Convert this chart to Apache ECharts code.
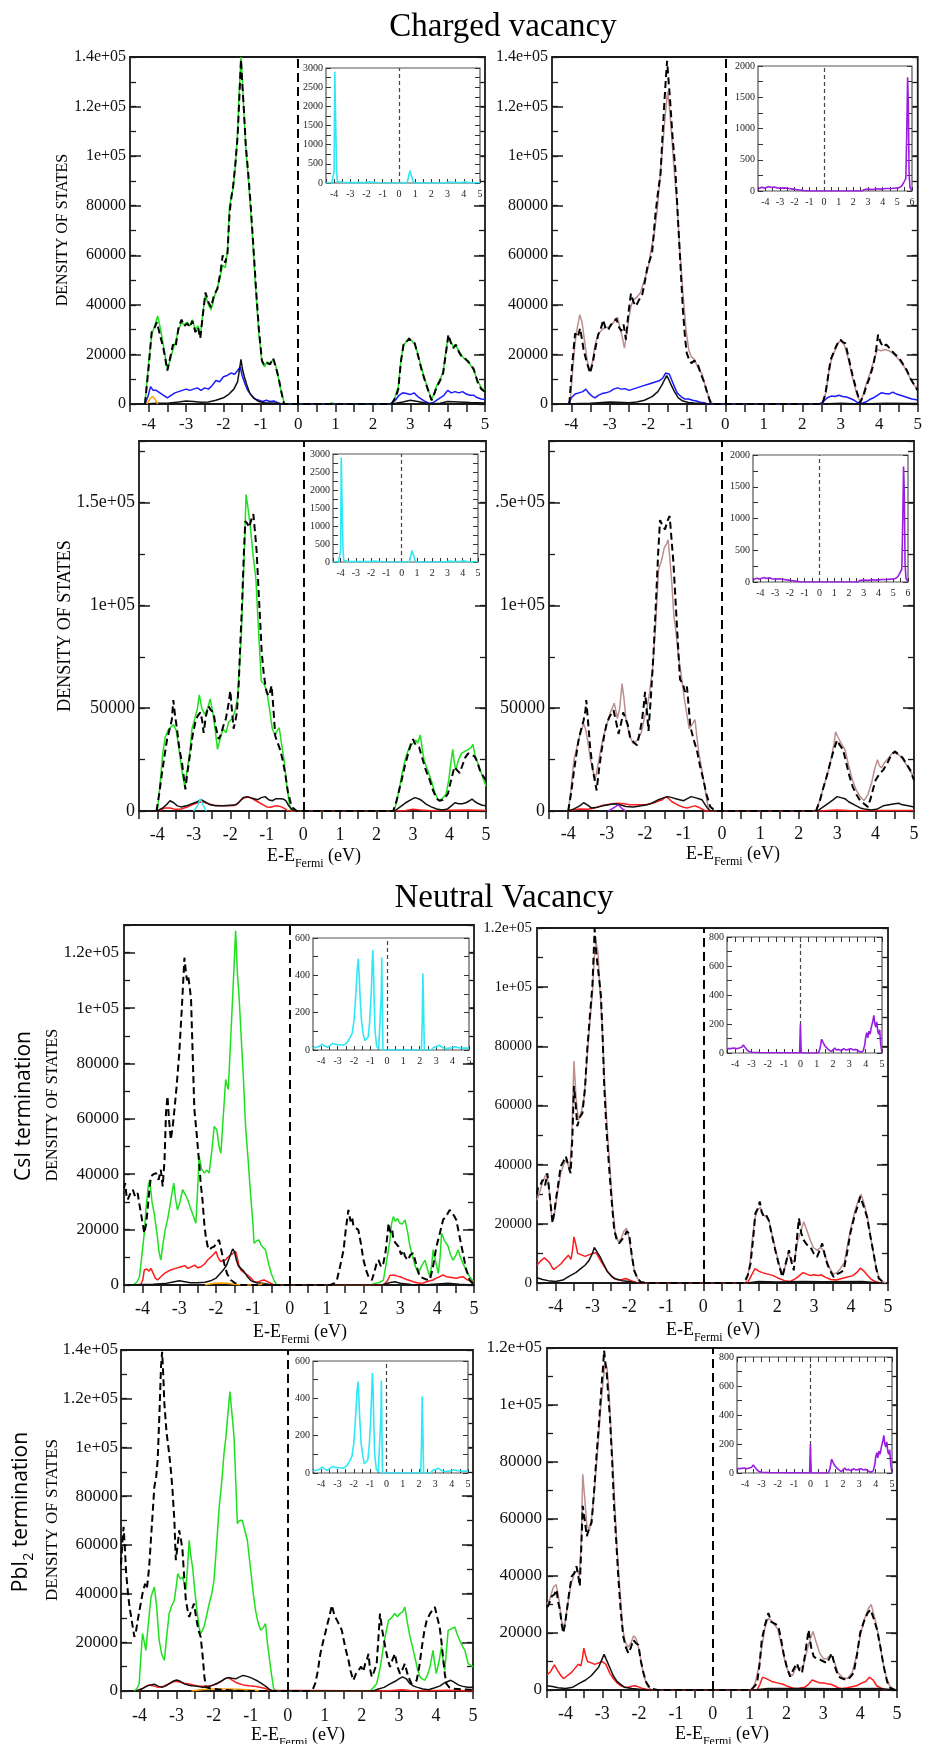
<!DOCTYPE html>
<html><head><meta charset="utf-8">
<script src="https://cdn.jsdelivr.net/npm/echarts@6/dist/echarts.min.js"></script>
<style>html,body{margin:0;padding:0;background:#fff}#c{width:925px;height:1744px}</style>
</head><body><div id="c"></div>
<script>
// ===== DATA (energy in eV, DOS values) =====
// Charged vacancy, left column (top panel)
const p1_total=[[-4.1,0],[-4.0,15000],[-3.92,29000],[-3.85,30500],[-3.78,33000],[-3.7,28000],[-3.6,22000],[-3.5,13500],[-3.42,19000],[-3.35,24000],[-3.28,23000],[-3.2,31000],[-3.12,34000],[-3.05,31500],[-2.97,32500],[-2.9,31000],[-2.83,33500],[-2.75,29000],[-2.68,31000],[-2.62,26500],[-2.55,36000],[-2.48,45000],[-2.4,41000],[-2.33,39000],[-2.25,44000],[-2.16,46500],[-2.08,53000],[-2.02,60000],[-1.95,57000],[-1.89,61000],[-1.84,76000],[-1.8,82000],[-1.74,88000],[-1.68,97000],[-1.62,108000],[-1.57,125000],[-1.53,139000],[-1.49,128000],[-1.45,118000],[-1.4,104000],[-1.33,92000],[-1.27,80000],[-1.2,64000],[-1.13,47000],[-1.05,30000],[-0.97,17500],[-0.9,15500],[-0.83,16500],[-0.75,16000],[-0.67,18500],[-0.6,15000],[-0.53,11000],[-0.45,5000],[-0.38,0],[2.5,0],[2.6,2500],[2.68,6000],[2.75,17000],[2.82,24000],[2.9,25000],[2.97,26500],[3.04,25000],[3.12,24500],[3.2,20000],[3.3,14000],[3.4,9000],[3.5,4500],[3.57,1500],[3.64,4000],[3.71,7000],[3.8,9500],[3.88,12500],[3.95,20000],[4.02,28000],[4.08,25000],[4.15,22500],[4.22,24000],[4.3,21000],[4.38,19000],[4.46,18500],[4.55,17000],[4.62,16000],[4.7,14000],[4.8,9000],[4.9,6000],[5,5000]];
const p1_green=[[-4.1,0],[-4.0,17000],[-3.92,28000],[-3.85,31000],[-3.76,35500],[-3.68,30000],[-3.6,23000],[-3.5,14000],[-3.42,18000],[-3.35,22000],[-3.28,25000],[-3.2,30000],[-3.12,33000],[-3.05,32000],[-2.97,33000],[-2.9,31500],[-2.83,34000],[-2.75,30000],[-2.68,31500],[-2.62,27000],[-2.55,37000],[-2.48,44000],[-2.4,40000],[-2.33,38000],[-2.25,43000],[-2.16,47000],[-2.08,52000],[-2.02,56000],[-1.95,55000],[-1.89,62000],[-1.84,79000],[-1.8,83000],[-1.74,87000],[-1.68,96000],[-1.62,110000],[-1.57,128000],[-1.53,140000],[-1.49,130000],[-1.45,117000],[-1.4,103000],[-1.33,90000],[-1.27,78000],[-1.2,62000],[-1.13,45000],[-1.05,28000],[-0.97,17000],[-0.9,15000],[-0.83,17000],[-0.75,16500],[-0.67,18000],[-0.6,15500],[-0.53,10500],[-0.45,4500],[-0.36,0],[0.8,0],[0.9,400],[1.0,0],[2.5,0],[2.6,3000],[2.68,7000],[2.75,18000],[2.82,23500],[2.9,25500],[2.97,26000],[3.04,25500],[3.12,24000],[3.2,20500],[3.3,14500],[3.4,9500],[3.5,5000],[3.57,1500],[3.64,4500],[3.71,7500],[3.8,10000],[3.88,13000],[3.95,21000],[4.02,27000],[4.08,25500],[4.15,23000],[4.22,23500],[4.3,21500],[4.38,19500],[4.46,18000],[4.55,17500],[4.62,15500],[4.7,13500],[4.8,9500],[4.9,6500],[5,5500]];
const p1_blue=[[-4.1,0],[-4.02,3000],[-3.95,7000],[-3.88,5500],[-3.8,5500],[-3.7,4500],[-3.6,3500],[-3.5,2500],[-3.4,3500],[-3.3,4500],[-3.2,5000],[-3.1,5500],[-3.0,6000],[-2.9,5500],[-2.8,6000],[-2.7,6500],[-2.6,5500],[-2.5,6500],[-2.4,6000],[-2.3,7500],[-2.2,9500],[-2.1,9000],[-2.0,11000],[-1.9,11500],[-1.8,12500],[-1.7,12000],[-1.62,13500],[-1.55,15000],[-1.5,11500],[-1.42,8000],[-1.35,5500],[-1.25,3500],[-1.15,2000],[-1.05,1500],[-0.95,1000],[-0.85,1500],[-0.75,1000],[-0.65,1200],[-0.55,500],[-0.45,0],[2.45,0],[2.6,1500],[2.7,3500],[2.8,4500],[2.9,4200],[3.0,3800],[3.1,4500],[3.2,3000],[3.3,2000],[3.4,1000],[3.5,300],[3.6,500],[3.7,1500],[3.8,2500],[3.9,3500],[4.0,5500],[4.1,4500],[4.2,5000],[4.3,4500],[4.4,5000],[4.5,4000],[4.6,3500],[4.7,3500],[4.8,2500],[4.9,2000],[5,1800]];
const p1_black=[[-4.1,0],[-3.8,300],[-3.5,300],[-3.2,800],[-3.0,1200],[-2.8,1000],[-2.6,700],[-2.4,800],[-2.2,1500],[-2.0,2500],[-1.85,4000],[-1.72,6000],[-1.62,9000],[-1.56,15000],[-1.53,18000],[-1.49,14000],[-1.44,11000],[-1.38,8000],[-1.3,4500],[-1.2,2500],[-1.05,1000],[-0.9,500],[-0.7,400],[-0.5,200],[-0.4,0],[2.5,0],[2.8,800],[3.0,1500],[3.2,1000],[3.5,100],[3.8,300],[4.0,1000],[4.3,800],[4.6,600],[5,400]];
const p1_orange=[[-4.05,0],[-3.97,2000],[-3.9,3000],[-3.83,2000],[-3.76,0]];
// Charged vacancy inset (cyan)
const cv_inset_cyan=[[-4.5,0],[-4.15,0],[-4.05,30],[-4.0,300],[-3.96,2900],[-3.9,2900],[-3.85,400],[-3.8,40],[-3.5,20],[-3.0,10],[-2.0,10],[-1.8,30],[-1.7,70],[-1.6,20],[-1.2,5],[0.5,0],[0.62,40],[0.68,320],[0.8,330],[0.86,60],[0.95,0],[2.5,0],[2.9,10],[3.1,25],[3.4,10],[3.9,15],[4.05,35],[4.3,10],[4.7,5],[5,5]];
// Charged vacancy, right column (top panel)
const p2_total=[[-4.05,0],[-3.98,15000],[-3.9,28500],[-3.83,27000],[-3.77,30500],[-3.72,26000],[-3.68,22000],[-3.6,17000],[-3.51,12500],[-3.45,16000],[-3.38,22000],[-3.3,28000],[-3.22,31000],[-3.17,34000],[-3.1,30000],[-3.04,30000],[-2.97,32000],[-2.9,33000],[-2.83,34500],[-2.76,31000],[-2.7,29500],[-2.64,32000],[-2.58,26000],[-2.52,36000],[-2.45,44500],[-2.38,41000],[-2.32,39500],[-2.24,42000],[-2.15,44500],[-2.08,50000],[-2.02,55500],[-1.96,58000],[-1.9,61000],[-1.85,70000],[-1.81,77000],[-1.75,85000],[-1.68,93000],[-1.63,108000],[-1.58,122000],[-1.54,132000],[-1.51,138500],[-1.47,130000],[-1.43,122000],[-1.37,108000],[-1.3,95500],[-1.24,78000],[-1.17,58000],[-1.1,38000],[-1.04,26000],[-1.0,20500],[-0.94,18000],[-0.88,16500],[-0.8,17500],[-0.71,15800],[-0.63,12000],[-0.54,8500],[-0.46,4000],[-0.37,0],[2.52,0],[2.6,4000],[2.67,11000],[2.74,18000],[2.82,21000],[2.9,24000],[2.99,26000],[3.05,25000],[3.12,24500],[3.2,19000],[3.3,12000],[3.4,6000],[3.5,500],[3.58,3000],[3.66,7000],[3.76,11000],[3.85,16000],[3.92,22000],[3.97,28000],[4.03,25000],[4.1,23000],[4.18,24000],[4.27,22500],[4.35,21000],[4.45,19500],[4.52,18500],[4.62,16000],[4.72,13500],[4.82,10000],[4.9,8000],[5,5500]];
const p2_rosy=[[-4.03,0],[-3.97,12000],[-3.9,25000],[-3.84,31000],[-3.78,36000],[-3.72,33000],[-3.65,25000],[-3.58,17000],[-3.52,13000],[-3.45,17000],[-3.38,24000],[-3.3,28000],[-3.2,30000],[-3.1,31000],[-3.0,31000],[-2.9,33000],[-2.8,35000],[-2.72,30000],[-2.66,26000],[-2.62,22500],[-2.56,28000],[-2.5,35000],[-2.44,40000],[-2.38,42000],[-2.3,43000],[-2.2,45000],[-2.1,50000],[-2.0,55000],[-1.93,62000],[-1.85,68000],[-1.77,78000],[-1.7,90000],[-1.62,105000],[-1.55,118000],[-1.5,126000],[-1.45,120000],[-1.4,110000],[-1.33,95000],[-1.25,80000],[-1.18,62000],[-1.1,45000],[-1.02,30000],[-0.95,22000],[-0.88,19000],[-0.8,18000],[-0.72,15000],[-0.6,12000],[-0.5,6000],[-0.4,2000],[-0.33,0],[2.53,0],[2.62,5000],[2.7,14000],[2.78,19000],[2.86,22000],[2.95,25000],[3.02,25500],[3.1,23500],[3.2,18000],[3.3,11000],[3.4,5000],[3.5,1000],[3.58,3500],[3.66,8000],[3.75,12000],[3.85,17000],[3.95,22000],[4.05,21500],[4.15,22000],[4.25,21500],[4.35,20500],[4.45,19000],[4.55,17000],[4.65,15000],[4.75,12000],[4.85,9000],[5,5500]];
const p2_blue=[[-4.08,0],[-4.0,2500],[-3.9,4000],[-3.8,4500],[-3.7,5000],[-3.62,6000],[-3.55,4500],[-3.45,3000],[-3.38,2500],[-3.3,3500],[-3.2,4200],[-3.1,4500],[-3.0,5000],[-2.9,6000],[-2.8,6500],[-2.7,6000],[-2.6,6200],[-2.5,5500],[-2.4,6000],[-2.3,6500],[-2.2,7000],[-2.1,7500],[-2.0,8000],[-1.9,8500],[-1.8,9000],[-1.7,9500],[-1.62,10500],[-1.55,12500],[-1.5,13000],[-1.45,12000],[-1.4,10000],[-1.32,7000],[-1.25,4500],[-1.15,3000],[-1.05,2000],[-0.95,2000],[-0.85,1500],[-0.75,1200],[-0.65,700],[-0.55,500],[-0.45,0],[2.45,0],[2.55,1000],[2.65,2500],[2.75,3200],[2.85,3000],[2.95,3500],[3.05,3000],[3.15,2800],[3.25,2200],[3.35,1500],[3.45,500],[3.55,300],[3.65,800],[3.75,1800],[3.85,2500],[3.95,3500],[4.05,4500],[4.15,4200],[4.25,4000],[4.35,4800],[4.45,4000],[4.55,3500],[4.65,3000],[4.75,2500],[4.85,2000],[5,1600]];
const p2_black=[[-4.05,0],[-3.8,200],[-3.5,300],[-3.2,600],[-3.0,800],[-2.8,700],[-2.5,500],[-2.3,800],[-2.1,1500],[-1.9,3000],[-1.75,5000],[-1.65,7500],[-1.57,10000],[-1.52,11500],[-1.47,10000],[-1.4,7500],[-1.32,5000],[-1.22,2500],[-1.1,1200],[-0.95,600],[-0.8,400],[-0.6,200],[-0.4,0],[2.5,0],[3.0,300],[3.5,0],[4.2,300],[5,200]];
// Charged vacancy inset (purple)
const cv_inset_purple=[[-4.5,30],[-4.35,50],[-4.2,60],[-4.05,45],[-3.9,60],[-3.75,70],[-3.6,55],[-3.4,65],[-3.2,50],[-3.0,45],[-2.7,50],[-2.4,40],[-2.1,30],[-1.8,20],[-1.5,10],[-1.3,0],[2.6,0],[2.75,25],[3.0,30],[3.3,25],[3.6,35],[3.9,30],[4.2,40],[4.5,40],[4.8,45],[5.1,50],[5.3,80],[5.4,120],[5.5,130],[5.58,200],[5.64,900],[5.7,1820],[5.75,1400],[5.8,300],[5.86,60],[6,0]];
// Charged vacancy, left column (lower panel)
const p3_total=[[-4.02,0],[-3.95,8000],[-3.87,18500],[-3.8,27000],[-3.73,35000],[-3.66,40000],[-3.6,44500],[-3.56,54000],[-3.51,46000],[-3.46,40000],[-3.4,31000],[-3.32,23000],[-3.27,16000],[-3.23,10500],[-3.18,18000],[-3.1,28000],[-3.03,37000],[-2.96,43000],[-2.9,46000],[-2.82,48000],[-2.77,44000],[-2.73,38000],[-2.67,46000],[-2.6,51000],[-2.53,49000],[-2.46,48000],[-2.4,41000],[-2.32,35000],[-2.26,37000],[-2.19,41500],[-2.12,45000],[-2.05,52000],[-2.0,58500],[-1.96,50000],[-1.91,40000],[-1.86,44000],[-1.82,48000],[-1.77,62000],[-1.73,80000],[-1.68,100000],[-1.63,125000],[-1.59,141000],[-1.54,140000],[-1.48,138000],[-1.42,142000],[-1.37,144500],[-1.32,135000],[-1.28,126500],[-1.22,105000],[-1.17,88000],[-1.14,77000],[-1.08,66000],[-1.03,60000],[-1.0,57500],[-0.94,56000],[-0.87,61000],[-0.82,50000],[-0.77,36500],[-0.7,33000],[-0.64,30000],[-0.57,25000],[-0.5,18500],[-0.42,9000],[-0.32,2000],[-0.18,0],[2.46,0],[2.55,5000],[2.62,10000],[2.69,15000],[2.78,22000],[2.87,28000],[2.95,33000],[3.0,35000],[3.08,32000],[3.17,31000],[3.25,26000],[3.35,20000],[3.46,15000],[3.55,10000],[3.65,6000],[3.73,5000],[3.82,5500],[3.9,7000],[3.96,8500],[4.03,14000],[4.1,19000],[4.14,21500],[4.2,20000],[4.28,18500],[4.35,22000],[4.43,26000],[4.51,28000],[4.6,27500],[4.69,26500],[4.76,24000],[4.83,20000],[4.92,17000],[5,15000]];
const p3_green=[[-4.0,0],[-3.93,12000],[-3.85,28000],[-3.78,36000],[-3.7,39500],[-3.62,41000],[-3.55,42000],[-3.48,39000],[-3.42,32000],[-3.33,20000],[-3.25,12000],[-3.18,20000],[-3.1,30000],[-3.05,40000],[-2.97,45000],[-2.9,50000],[-2.85,56500],[-2.78,50000],[-2.7,47000],[-2.62,50000],[-2.55,54500],[-2.48,48000],[-2.42,40000],[-2.35,30000],[-2.28,35000],[-2.2,40000],[-2.12,38000],[-2.05,43000],[-1.95,45000],[-1.88,48000],[-1.8,55000],[-1.75,70000],[-1.7,85000],[-1.65,110000],[-1.6,135000],[-1.57,154000],[-1.52,148000],[-1.45,138000],[-1.38,125000],[-1.3,113000],[-1.22,85000],[-1.15,63000],[-1.08,62000],[-1.0,58000],[-0.93,50000],[-0.85,40000],[-0.78,37000],[-0.72,39000],[-0.66,40500],[-0.6,33000],[-0.53,25000],[-0.45,12000],[-0.38,3000],[-0.33,0],[2.48,0],[2.55,4000],[2.62,10000],[2.7,18000],[2.8,26000],[2.9,31000],[3.0,33000],[3.08,34500],[3.13,33000],[3.2,37000],[3.25,31000],[3.3,25000],[3.4,20000],[3.5,15000],[3.6,9000],[3.7,5000],[3.8,6000],[3.9,8000],[3.98,15000],[4.05,25000],[4.09,30000],[4.13,24000],[4.17,20000],[4.25,25000],[4.33,28000],[4.42,29000],[4.52,30000],[4.6,31000],[4.64,32500],[4.7,27000],[4.8,22000],[4.9,17000],[5,12000]];
const p3_black=[[-4.0,0],[-3.85,1500],[-3.75,3000],[-3.65,5000],[-3.55,4000],[-3.45,2500],[-3.35,2000],[-3.2,2500],[-3.05,3500],[-2.9,4500],[-2.8,5500],[-2.7,4500],[-2.55,3000],[-2.4,2500],[-2.2,2500],[-2.0,2800],[-1.85,3000],[-1.75,4500],[-1.65,6500],[-1.55,7000],[-1.45,6500],[-1.35,6000],[-1.25,5500],[-1.15,6500],[-1.05,7000],[-0.95,5500],[-0.85,5000],[-0.75,6000],[-0.65,6000],[-0.55,5800],[-0.48,5000],[-0.4,2500],[-0.3,500],[-0.2,0],[2.5,0],[2.65,2000],[2.8,4000],[2.95,5500],[3.05,6500],[3.15,6000],[3.25,5000],[3.35,3500],[3.5,2000],[3.65,1000],[3.8,500],[3.95,1000],[4.05,2500],[4.15,4000],[4.25,3500],[4.35,3500],[4.45,4000],[4.55,5000],[4.62,5800],[4.7,4500],[4.8,3500],[4.9,2800],[5,2500]];
const p3_red=[[-4.02,0],[-3.9,500],[-3.8,1500],[-3.65,1500],[-3.5,800],[-3.35,1000],[-3.2,1800],[-3.05,3000],[-2.9,4000],[-2.75,4500],[-2.6,3500],[-2.45,2800],[-2.25,2500],[-2.05,2500],[-1.9,2700],[-1.8,3500],[-1.7,5500],[-1.6,6500],[-1.5,6800],[-1.4,6000],[-1.3,5000],[-1.2,4000],[-1.1,3000],[-1.0,2000],[-0.9,1800],[-0.8,2300],[-0.7,2500],[-0.6,2000],[-0.5,1000],[-0.42,0],[2.5,0],[2.8,300],[3.0,800],[3.2,500],[3.5,100],[4.0,400],[4.5,500],[5,300]];
const p3_cyan=[[-3.0,0],[-2.9,2500],[-2.82,6000],[-2.75,3000],[-2.66,0]];
// Charged vacancy, right column (lower panel)
const p4_total=[[-4.0,0],[-3.93,8000],[-3.86,18000],[-3.8,26000],[-3.73,34500],[-3.66,40000],[-3.6,44000],[-3.55,49000],[-3.53,54000],[-3.49,45000],[-3.43,31000],[-3.36,20000],[-3.3,14000],[-3.26,10000],[-3.2,20000],[-3.13,29500],[-3.06,37000],[-3.0,42500],[-2.92,46000],[-2.82,49000],[-2.76,44000],[-2.69,37500],[-2.62,43000],[-2.57,48000],[-2.52,47500],[-2.45,42000],[-2.39,36000],[-2.3,33500],[-2.21,32000],[-2.14,38000],[-2.08,44000],[-2.03,52000],[-2.0,58000],[-1.95,48000],[-1.91,39000],[-1.85,55000],[-1.78,76500],[-1.72,100000],[-1.66,125000],[-1.61,141500],[-1.55,139000],[-1.48,137000],[-1.42,141000],[-1.36,143500],[-1.31,132000],[-1.26,120500],[-1.2,100000],[-1.14,80000],[-1.09,64000],[-1.02,62000],[-0.96,58000],[-0.91,60500],[-0.87,52000],[-0.82,41000],[-0.74,35000],[-0.65,29500],[-0.57,22000],[-0.48,15000],[-0.4,8000],[-0.3,2000],[-0.17,0],[2.45,0],[2.55,5000],[2.62,10000],[2.7,15000],[2.8,22000],[2.9,29000],[2.97,33000],[3.0,34500],[3.07,32000],[3.15,30000],[3.23,24000],[3.32,17000],[3.4,12000],[3.5,8000],[3.6,5000],[3.7,3500],[3.8,2000],[3.87,6000],[3.94,11000],[4.0,15000],[4.1,18000],[4.2,20000],[4.3,23000],[4.4,27000],[4.5,29000],[4.6,27500],[4.7,26000],[4.8,23000],[4.9,20000],[5,15000]];
const p4_rosy=[[-4.0,0],[-3.93,10000],[-3.85,25000],[-3.75,33000],[-3.68,38000],[-3.6,42500],[-3.55,40000],[-3.5,35000],[-3.42,25000],[-3.3,15000],[-3.2,25000],[-3.1,35000],[-3.0,42000],[-2.9,48000],[-2.8,52500],[-2.72,45000],[-2.66,50000],[-2.6,62000],[-2.55,55000],[-2.5,45000],[-2.42,38000],[-2.32,33000],[-2.22,34000],[-2.1,38000],[-2.02,45000],[-1.95,50000],[-1.88,58000],[-1.8,70000],[-1.72,92000],[-1.65,117500],[-1.57,122000],[-1.5,128000],[-1.44,130000],[-1.4,132000],[-1.35,122000],[-1.3,110000],[-1.25,95000],[-1.2,88000],[-1.13,75000],[-1.05,65000],[-0.98,55000],[-0.92,48000],[-0.85,40000],[-0.78,42000],[-0.7,44500],[-0.65,36000],[-0.6,28000],[-0.52,20000],[-0.45,12000],[-0.38,4000],[-0.33,0],[2.45,0],[2.55,5500],[2.65,12000],[2.75,18000],[2.85,26000],[2.92,33000],[2.96,38500],[3.02,36000],[3.1,33000],[3.2,30000],[3.3,22000],[3.4,15000],[3.5,10000],[3.6,7000],[3.7,5000],[3.8,8000],[3.9,14000],[3.97,20000],[4.05,25000],[4.1,22000],[4.15,21000],[4.25,24000],[4.35,26000],[4.45,28500],[4.55,28000],[4.65,26500],[4.75,24000],[4.85,21000],[4.95,18000],[5,17000]];
const p4_black=[[-4.0,0],[-3.85,1000],[-3.7,2500],[-3.6,4000],[-3.5,3000],[-3.4,1500],[-3.25,1800],[-3.1,2500],[-2.95,3000],[-2.8,3500],[-2.65,3000],[-2.5,2200],[-2.3,2000],[-2.1,2500],[-1.95,3000],[-1.8,4000],[-1.65,5500],[-1.5,6500],[-1.4,7000],[-1.3,6500],[-1.2,6000],[-1.1,5500],[-1.0,5000],[-0.9,6000],[-0.8,7000],[-0.7,6500],[-0.6,6000],[-0.52,5500],[-0.45,3500],[-0.38,1500],[-0.3,0],[2.48,0],[2.6,1500],[2.75,3500],[2.9,5500],[3.0,7000],[3.1,6500],[3.2,6000],[3.3,4500],[3.45,3000],[3.6,1500],[3.75,800],[3.9,500],[4.05,1000],[4.2,2500],[4.35,3000],[4.5,3500],[4.6,3800],[4.7,3000],[4.85,2500],[5,2000]];
const p4_red=[[-4.02,0],[-3.85,600],[-3.7,1000],[-3.5,800],[-3.3,1500],[-3.15,2500],[-3.0,3000],[-2.85,3500],[-2.7,3800],[-2.55,3500],[-2.4,3000],[-2.2,3000],[-2.0,3000],[-1.85,3500],[-1.7,4500],[-1.55,5500],[-1.45,7000],[-1.38,6000],[-1.3,4500],[-1.2,3500],[-1.1,2500],[-1.0,1800],[-0.9,1500],[-0.8,2000],[-0.7,2500],[-0.6,1800],[-0.5,800],[-0.42,0],[2.5,0],[3.0,500],[3.4,100],[4.0,200],[5,200]];
const p4_purple=[[-2.95,0],[-2.82,1500],[-2.7,3000],[-2.6,1200],[-2.5,0]];
// Neutral vacancy, CsI termination, left
const p5_total=[[-4.5,35000],[-4.47,36800],[-4.43,32000],[-4.4,30800],[-4.33,33000],[-4.26,34400],[-4.2,32000],[-4.13,33200],[-4.08,29000],[-4.04,25900],[-3.99,22000],[-3.95,18700],[-3.9,22000],[-3.86,27100],[-3.82,33000],[-3.77,39200],[-3.7,40000],[-3.63,40400],[-3.56,38000],[-3.5,41600],[-3.45,35600],[-3.4,45000],[-3.36,62100],[-3.32,68200],[-3.28,60000],[-3.23,52500],[-3.18,57000],[-3.14,62100],[-3.07,72000],[-3.0,83800],[-2.93,100000],[-2.86,118200],[-2.82,113000],[-2.79,110000],[-2.76,111600],[-2.72,108000],[-2.68,103100],[-2.64,85000],[-2.59,63300],[-2.53,55000],[-2.46,44000],[-2.42,37000],[-2.37,30800],[-2.32,22000],[-2.28,17500],[-2.23,14000],[-2.19,12700],[-2.12,13500],[-2.05,13900],[-1.98,15500],[-1.92,16300],[-1.85,12000],[-1.78,7800],[-1.7,4000],[-1.6,1800],[-1.5,800],[-1.42,300],[-1.3,0],[1.1,0],[1.2,600],[1.28,1800],[1.37,7000],[1.46,12700],[1.52,20000],[1.59,27100],[1.65,23000],[1.69,24500],[1.73,21100],[1.8,20500],[1.86,19900],[1.93,15000],[2.0,9000],[2.08,5000],[2.15,2500],[2.23,1800],[2.3,5000],[2.36,8000],[2.41,9000],[2.48,6500],[2.54,7800],[2.6,12000],[2.65,18000],[2.68,22300],[2.73,19000],[2.78,20000],[2.81,16300],[2.88,15000],[2.95,13900],[3.02,11000],[3.08,12500],[3.13,10300],[3.2,9000],[3.28,11000],[3.35,11500],[3.42,8000],[3.48,5000],[3.53,3000],[3.62,2500],[3.7,2000],[3.8,1800],[3.88,6000],[3.98,13900],[4.06,18000],[4.16,23500],[4.25,25000],[4.34,27100],[4.4,26000],[4.46,25000],[4.52,23500],[4.6,18000],[4.7,11500],[4.78,6000],[4.88,1800],[5,0]];
const p5_green=[[-4.26,0],[-4.15,1000],[-4.08,3000],[-4.02,10000],[-3.95,18700],[-3.9,28000],[-3.84,36000],[-3.8,38000],[-3.74,30000],[-3.68,25900],[-3.6,18000],[-3.55,12000],[-3.5,9000],[-3.44,15000],[-3.38,20000],[-3.32,23500],[-3.26,28000],[-3.2,33000],[-3.15,36800],[-3.1,31000],[-3.05,27100],[-2.98,30000],[-2.91,34400],[-2.85,33000],[-2.77,30800],[-2.7,28000],[-2.62,25000],[-2.55,22300],[-2.5,35000],[-2.46,46400],[-2.4,42000],[-2.32,40400],[-2.25,41500],[-2.19,40400],[-2.12,48000],[-2.05,57300],[-1.98,56000],[-1.92,50000],[-1.87,47600],[-1.8,62000],[-1.74,74200],[-1.7,72000],[-1.67,70600],[-1.6,90000],[-1.53,110000],[-1.47,127900],[-1.42,112000],[-1.38,105000],[-1.33,92300],[-1.26,75000],[-1.2,57300],[-1.13,45000],[-1.06,32000],[-1.0,22000],[-0.97,15100],[-0.9,16000],[-0.84,16300],[-0.78,14500],[-0.72,13500],[-0.66,12700],[-0.58,8000],[-0.5,4000],[-0.43,1800],[-0.35,0],[2.18,0],[2.3,500],[2.45,1000],[2.54,1800],[2.62,8000],[2.68,13000],[2.72,16300],[2.76,22000],[2.81,24700],[2.86,23000],[2.92,24000],[2.99,22300],[3.05,22000],[3.13,23500],[3.2,19000],[3.26,14000],[3.31,11500],[3.4,7000],[3.49,4200],[3.58,7000],[3.67,9000],[3.73,6000],[3.8,3000],[3.85,7000],[3.89,12700],[3.95,9000],[4.03,4200],[4.08,10000],[4.12,18700],[4.2,16000],[4.3,13900],[4.36,11000],[4.43,9000],[4.5,10500],[4.57,12700],[4.63,10000],[4.7,7800],[4.8,5000],[4.88,3000],[5,1000]];
const p5_red=[[-4.05,0],[-3.99,1800],[-3.95,5400],[-3.88,5800],[-3.82,5000],[-3.77,6000],[-3.7,4000],[-3.65,2500],[-3.59,1800],[-3.5,3000],[-3.4,4200],[-3.32,4800],[-3.22,5500],[-3.1,6000],[-2.95,6600],[-2.85,7000],[-2.77,6000],[-2.68,6500],[-2.58,7200],[-2.5,6200],[-2.41,6600],[-2.32,7500],[-2.23,9000],[-2.15,10000],[-2.07,11000],[-2.0,12100],[-1.95,10000],[-1.88,8500],[-1.83,7800],[-1.75,9000],[-1.68,10000],[-1.6,10900],[-1.53,11500],[-1.47,12100],[-1.42,9500],[-1.38,7000],[-1.33,5400],[-1.25,4500],[-1.15,3600],[-1.05,2500],[-0.97,1200],[-0.88,1000],[-0.79,1500],[-0.7,1800],[-0.6,1200],[-0.5,500],[-0.4,0],[2.54,0],[2.65,1500],[2.72,3500],[2.77,4200],[2.85,3500],[2.92,3200],[2.99,3000],[3.08,2500],[3.17,2000],[3.26,1600],[3.35,1200],[3.45,800],[3.53,600],[3.62,700],[3.72,1200],[3.8,1500],[3.89,1800],[3.98,2500],[4.07,3000],[4.16,3600],[4.25,3000],[4.34,2800],[4.43,2600],[4.52,2400],[4.61,2800],[4.7,3000],[4.8,2000],[4.9,1500],[5,1000]];
const p5_black=[[-4.4,0],[-4.0,200],[-3.7,300],[-3.4,500],[-3.2,1000],[-3.0,1500],[-2.85,1200],[-2.7,800],[-2.5,800],[-2.3,1000],[-2.15,1500],[-2.0,2500],[-1.9,4000],[-1.8,5500],[-1.72,7000],[-1.65,9500],[-1.58,12000],[-1.55,13000],[-1.5,12000],[-1.45,9000],[-1.4,7000],[-1.33,6000],[-1.25,5000],[-1.15,3000],[-1.05,1500],[-0.9,800],[-0.7,500],[-0.55,200],[-0.45,0],[2.5,0],[2.7,800],[2.85,1200],[3.0,600],[3.3,200],[3.6,0],[4.0,400],[4.3,600],[4.6,300],[5,0]];
const p5_orange=[[-2.3,0],[-2.1,500],[-1.9,700],[-1.7,600],[-1.5,300],[-1.3,0],[-0.9,0],[-0.75,400],[-0.6,0]];
// Neutral vacancy inset (cyan)
const nv_inset_cyan=[[-4.5,10],[-4.3,15],[-4.1,20],[-3.95,32],[-3.8,22],[-3.63,15],[-3.45,25],[-3.3,35],[-3.1,30],[-2.9,28],[-2.7,25],[-2.55,30],[-2.38,45],[-2.25,65],[-2.11,90],[-2.0,160],[-1.92,260],[-1.87,330],[-1.8,440],[-1.74,490],[-1.7,420],[-1.64,300],[-1.55,160],[-1.45,90],[-1.35,50],[-1.25,45],[-1.14,70],[-1.05,150],[-0.98,260],[-0.93,360],[-0.89,470],[-0.86,535],[-0.82,460],[-0.77,250],[-0.72,100],[-0.62,20],[-0.5,5],[-0.38,10],[-0.34,300],[-0.31,495],[-0.28,250],[-0.24,0],[2.1,0],[2.15,150],[2.19,410],[2.24,200],[2.28,0],[2.7,0],[2.85,15],[3.0,18],[3.2,25],[3.4,12],[3.6,8],[3.8,10],[4.0,12],[4.15,18],[4.35,12],[4.6,10],[5,10]];
// Neutral vacancy, CsI termination, right
const p6_total=[[-4.5,30000],[-4.47,32600],[-4.41,33000],[-4.35,34900],[-4.28,33000],[-4.22,37100],[-4.16,30000],[-4.11,24000],[-4.08,20200],[-4.03,24000],[-3.99,28100],[-3.93,33000],[-3.86,39400],[-3.79,41000],[-3.72,42800],[-3.66,40000],[-3.59,37100],[-3.54,50000],[-3.5,66600],[-3.45,60000],[-3.41,53000],[-3.34,56000],[-3.27,57500],[-3.2,66000],[-3.14,79000],[-3.07,90000],[-3.0,100600],[-2.97,110000],[-2.94,119800],[-2.9,112000],[-2.86,107400],[-2.82,103000],[-2.77,97200],[-2.72,82000],[-2.68,66600],[-2.62,52000],[-2.55,39400],[-2.48,28000],[-2.41,17900],[-2.35,15000],[-2.28,13400],[-2.21,14500],[-2.14,15600],[-2.07,17500],[-2.01,16800],[-1.94,10000],[-1.87,4300],[-1.78,1500],[-1.69,300],[-1.5,0],[1.1,0],[1.2,2500],[1.28,6600],[1.35,15000],[1.41,23600],[1.47,25000],[1.53,27500],[1.58,24000],[1.64,22400],[1.7,23000],[1.77,21300],[1.86,16000],[1.95,11100],[2.05,6000],[2.14,2000],[2.22,6000],[2.28,9000],[2.32,11100],[2.39,7000],[2.45,4300],[2.52,13000],[2.59,21900],[2.65,17000],[2.72,14500],[2.8,13000],[2.9,12200],[2.99,10000],[3.08,8800],[3.15,11000],[3.22,13400],[3.28,10000],[3.35,6600],[3.44,4000],[3.53,2000],[3.62,3000],[3.71,3500],[3.8,4300],[3.89,10000],[3.98,16800],[4.1,23000],[4.18,26000],[4.25,29200],[4.34,26000],[4.43,22400],[4.52,16000],[4.61,10000],[4.68,5000],[4.75,1500],[4.85,500],[4.95,0]];
const p6_rosy=[[-4.5,28000],[-4.42,31000],[-4.35,34000],[-4.25,37000],[-4.18,33000],[-4.1,22000],[-4.03,23000],[-3.95,30000],[-3.86,37000],[-3.78,40000],[-3.7,42000],[-3.62,38000],[-3.56,48000],[-3.5,75000],[-3.44,62000],[-3.38,55000],[-3.3,58000],[-3.22,63000],[-3.15,75000],[-3.07,88000],[-3.0,98000],[-2.95,110000],[-2.9,115000],[-2.85,112000],[-2.8,100000],[-2.74,88000],[-2.68,70000],[-2.6,52000],[-2.52,38000],[-2.45,25000],[-2.38,17000],[-2.3,14000],[-2.22,15000],[-2.15,17500],[-2.08,18500],[-2.02,16000],[-1.95,10000],[-1.87,4500],[-1.78,1500],[-1.65,0],[1.15,0],[1.25,5000],[1.32,14000],[1.4,22000],[1.48,25000],[1.55,25500],[1.62,23000],[1.7,22500],[1.78,21000],[1.87,16000],[1.96,11000],[2.06,6000],[2.15,3000],[2.24,6500],[2.3,10000],[2.38,8000],[2.46,7000],[2.55,14000],[2.63,17000],[2.72,20700],[2.8,18000],[2.88,15000],[2.98,12000],[3.08,11000],[3.18,12000],[3.25,11000],[3.33,8000],[3.42,5000],[3.52,3000],[3.62,3500],[3.72,5000],[3.82,7000],[3.92,14000],[4.02,20000],[4.12,25000],[4.2,28000],[4.27,30000],[4.35,27000],[4.45,22000],[4.55,14000],[4.65,7000],[4.75,2000],[4.85,500],[4.95,0]];
const p6_red=[[-4.5,6000],[-4.4,7500],[-4.3,8500],[-4.25,9100],[-4.17,7000],[-4.1,5500],[-4.05,4500],[-3.95,5500],[-3.85,6500],[-3.75,8000],[-3.65,9400],[-3.58,8000],[-3.54,11000],[-3.5,15600],[-3.45,13000],[-3.4,10000],[-3.3,9500],[-3.2,9000],[-3.1,9500],[-3.0,10000],[-2.9,10200],[-2.8,8000],[-2.7,6000],[-2.6,4000],[-2.5,2500],[-2.4,1500],[-2.3,1000],[-2.2,1200],[-2.1,1500],[-2.0,1000],[-1.9,500],[-1.75,0],[1.2,0],[1.3,2500],[1.4,4900],[1.5,4000],[1.6,3500],[1.75,3000],[1.9,2500],[2.05,1500],[2.2,800],[2.35,500],[2.5,1500],[2.6,2500],[2.7,3500],[2.8,3000],[2.9,2500],[3.0,2800],[3.1,2500],[3.2,2700],[3.3,2000],[3.45,1200],[3.6,1000],[3.75,1500],[3.9,2000],[4.05,2500],[4.15,3500],[4.25,5000],[4.35,4000],[4.45,2500],[4.55,1200],[4.65,500],[4.8,0]];
const p6_black=[[-4.5,1800],[-4.35,1200],[-4.2,800],[-4.0,500],[-3.8,1000],[-3.6,2500],[-3.45,3500],[-3.3,5000],[-3.2,6000],[-3.1,7500],[-3.0,10000],[-2.95,12000],[-2.9,11000],[-2.8,9000],[-2.7,6500],[-2.6,4000],[-2.5,2500],[-2.4,1500],[-2.2,800],[-2.0,500],[-1.8,0],[1.2,0],[1.5,500],[2.0,300],[2.7,500],[3.2,400],[4.3,500],[4.8,0]];
// Neutral vacancy inset (purple)
const nv_inset_purple=[[-4.5,30],[-4.4,35],[-4.3,30],[-4.2,40],[-4.05,35],[-3.9,30],[-3.75,35],[-3.6,40],[-3.5,55],[-3.45,68],[-3.38,45],[-3.3,25],[-3.15,10],[-3.0,5],[-2.5,3],[-1.5,2],[-0.5,2],[-0.05,0],[-0.02,120],[0,200],[0.02,100],[0.05,0],[1.1,0],[1.2,30],[1.3,95],[1.4,70],[1.5,50],[1.6,40],[1.7,25],[1.8,15],[1.9,10],[2.0,15],[2.1,35],[2.2,20],[2.35,25],[2.5,15],[2.65,30],[2.8,20],[2.95,25],[3.1,30],[3.25,20],[3.4,25],[3.55,15],[3.7,5],[3.85,15],[3.95,60],[4.0,110],[4.07,140],[4.13,105],[4.2,150],[4.27,130],[4.35,180],[4.42,210],[4.5,260],[4.56,200],[4.62,180],[4.68,215],[4.74,150],[4.8,130],[4.86,160],[4.92,60],[5.0,0]];
// Neutral vacancy, PbI2 termination, left
const p7_total=[[-4.5,52000],[-4.48,56400],[-4.46,62000],[-4.43,67400],[-4.4,60000],[-4.36,48200],[-4.31,40000],[-4.27,34500],[-4.2,28000],[-4.14,22200],[-4.1,24000],[-4.05,29000],[-3.99,34000],[-3.92,40000],[-3.85,44000],[-3.8,42000],[-3.74,51000],[-3.68,65000],[-3.6,83800],[-3.55,88000],[-3.51,94800],[-3.46,115000],[-3.42,133200],[-3.39,139300],[-3.36,130000],[-3.33,118100],[-3.27,106000],[-3.2,97500],[-3.15,90000],[-3.11,82500],[-3.06,70000],[-3.02,53700],[-2.97,60000],[-2.93,66000],[-2.88,62000],[-2.84,57800],[-2.8,48000],[-2.75,37300],[-2.7,33000],[-2.66,30400],[-2.6,33000],[-2.53,35900],[-2.47,30000],[-2.41,25000],[-2.35,22200],[-2.3,15000],[-2.25,6000],[-2.21,1600],[-2.08,1000],[-1.8,500],[-1.5,200],[-1.2,0],[0.61,0],[0.68,800],[0.74,3000],[0.81,8000],[0.88,15300],[0.95,20000],[1.01,23600],[1.08,28000],[1.13,31000],[1.19,35200],[1.26,31000],[1.33,29000],[1.4,27000],[1.46,24900],[1.55,18000],[1.64,12600],[1.7,8000],[1.77,4400],[1.84,7000],[1.91,8500],[1.98,10000],[2.04,8000],[2.09,11200],[2.14,13000],[2.18,15300],[2.22,9000],[2.27,5800],[2.33,8000],[2.4,11200],[2.44,20000],[2.49,31800],[2.55,25000],[2.63,18100],[2.7,13000],[2.76,9900],[2.83,13000],[2.89,15300],[2.96,10000],[3.03,7100],[3.1,9000],[3.16,11200],[3.25,6000],[3.34,3000],[3.41,3500],[3.48,4400],[3.55,10000],[3.62,18000],[3.68,24000],[3.75,29000],[3.85,32000],[3.97,34500],[4.04,30000],[4.1,26300],[4.15,20000],[4.19,14000],[4.24,7000],[4.28,3000],[4.36,1500],[4.46,1000],[4.7,700],[5,500]];
const p7_green=[[-4.14,0],[-4.07,1000],[-4.01,3000],[-3.96,15000],[-3.92,23600],[-3.87,20000],[-3.83,16700],[-3.76,28000],[-3.69,38600],[-3.64,41000],[-3.6,42700],[-3.54,35000],[-3.47,20800],[-3.4,15000],[-3.33,12600],[-3.27,22000],[-3.2,31800],[-3.13,35000],[-3.06,37300],[-3.0,44000],[-2.97,48200],[-2.9,46000],[-2.84,46800],[-2.79,44000],[-2.75,41400],[-2.7,52000],[-2.66,61900],[-2.62,56000],[-2.57,51000],[-2.5,40000],[-2.44,31800],[-2.39,26000],[-2.35,23600],[-2.3,25000],[-2.26,26300],[-2.19,31000],[-2.12,35900],[-2.05,40000],[-1.99,45500],[-1.92,60000],[-1.85,75600],[-1.78,86000],[-1.72,97500],[-1.67,104000],[-1.63,111200],[-1.59,118000],[-1.56,122900],[-1.5,113000],[-1.45,104400],[-1.4,85000],[-1.36,68800],[-1.3,70000],[-1.23,70100],[-1.16,66000],[-1.09,61900],[-1.04,55000],[-1.0,49600],[-0.93,40000],[-0.87,33200],[-0.8,28000],[-0.73,24900],[-0.66,26000],[-0.6,27700],[-0.55,20000],[-0.51,15300],[-0.45,8000],[-0.38,1000],[-0.3,0],[2.22,0],[2.32,1500],[2.4,3000],[2.5,10000],[2.58,18100],[2.65,24000],[2.72,29000],[2.8,30000],[2.89,31800],[2.96,30500],[3.03,31800],[3.1,32500],[3.16,34500],[3.23,28000],[3.3,22200],[3.37,18000],[3.43,14000],[3.5,9000],[3.57,5800],[3.63,5000],[3.7,4400],[3.77,6500],[3.84,9900],[3.92,16700],[3.96,12000],[4.01,7100],[4.08,12000],[4.15,18100],[4.2,12000],[4.24,8500],[4.28,16000],[4.33,24900],[4.42,25500],[4.51,26300],[4.58,23000],[4.64,20800],[4.71,18500],[4.78,16700],[4.84,13000],[4.87,11200],[4.94,10500],[5,9900]];
const p7_black=[[-4.1,0],[-3.95,800],[-3.8,2000],[-3.7,2500],[-3.6,2800],[-3.5,2000],[-3.4,1500],[-3.3,2000],[-3.2,3000],[-3.1,4000],[-3.0,4500],[-2.9,4000],[-2.8,3000],[-2.7,2500],[-2.6,2200],[-2.5,2000],[-2.4,1800],[-2.3,1500],[-2.2,1500],[-2.1,2000],[-2.0,2500],[-1.9,3200],[-1.8,4000],[-1.7,5000],[-1.6,5500],[-1.5,5200],[-1.4,5000],[-1.3,5800],[-1.2,6400],[-1.1,6000],[-1.0,5500],[-0.9,4800],[-0.8,4000],[-0.7,3000],[-0.6,2000],[-0.5,800],[-0.42,0],[2.3,0],[2.45,800],[2.6,1500],[2.75,2800],[2.9,4000],[3.0,5000],[3.1,5800],[3.2,5000],[3.3,3000],[3.4,2000],[3.5,1500],[3.65,800],[3.8,500],[3.95,1200],[4.1,2000],[4.25,3500],[4.4,4400],[4.5,3500],[4.6,2500],[4.7,2000],[4.85,1500],[5,1500]];
const p7_red=[[-4.05,0],[-3.9,1200],[-3.75,2500],[-3.6,2000],[-3.5,1500],[-3.35,2000],[-3.2,3000],[-3.05,4000],[-2.95,3800],[-2.8,3200],[-2.7,3000],[-2.55,2500],[-2.4,2000],[-2.2,2000],[-2.05,2200],[-1.9,3000],[-1.8,4000],[-1.7,5000],[-1.6,5500],[-1.5,4500],[-1.4,3500],[-1.3,3000],[-1.2,2500],[-1.05,2200],[-0.9,2000],[-0.75,1500],[-0.6,1000],[-0.5,300],[-0.45,0],[2.6,0],[2.9,300],[3.1,500],[3.3,200],[3.6,0],[4.3,300],[4.6,200],[5,0]];
const p7_orange=[[-2.6,0],[-2.3,600],[-2.0,800],[-1.6,800],[-1.2,600],[-0.9,300],[-0.7,0]];
// Neutral vacancy, PbI2 termination, right
const p8_total=[[-4.5,29000],[-4.45,30000],[-4.37,32900],[-4.3,33500],[-4.24,35200],[-4.2,31000],[-4.15,28200],[-4.1,23000],[-4.06,20000],[-4.01,23000],[-3.97,27000],[-3.9,34000],[-3.83,39900],[-3.76,41000],[-3.7,43400],[-3.65,40000],[-3.61,36400],[-3.57,50000],[-3.53,64600],[-3.48,60000],[-3.42,54000],[-3.35,57000],[-3.29,58700],[-3.22,70000],[-3.15,83300],[-3.08,95000],[-3.02,106800],[-2.98,113000],[-2.95,119100],[-2.91,114000],[-2.88,111500],[-2.84,104000],[-2.79,95100],[-2.73,80000],[-2.68,64600],[-2.62,52000],[-2.56,38700],[-2.5,28000],[-2.43,18800],[-2.36,15000],[-2.29,12900],[-2.22,15000],[-2.16,17600],[-2.09,16500],[-2.02,15800],[-1.95,10000],[-1.88,5900],[-1.8,2500],[-1.7,600],[-1.5,0],[1.01,0],[1.1,800],[1.2,2300],[1.27,9000],[1.33,17600],[1.42,23000],[1.51,27000],[1.58,24000],[1.65,23500],[1.72,23000],[1.78,22300],[1.85,18000],[1.92,12900],[2.01,8000],[2.1,4700],[2.18,7000],[2.28,9400],[2.35,7000],[2.42,5900],[2.5,12000],[2.6,21100],[2.67,15000],[2.74,11700],[2.83,11000],[2.92,10600],[3.01,10000],[3.1,9400],[3.16,11000],[3.23,12900],[3.32,8000],[3.41,4700],[3.52,4000],[3.64,3500],[3.73,4500],[3.82,5900],[3.91,12000],[4.0,20000],[4.1,24000],[4.2,27000],[4.28,28200],[4.37,25000],[4.46,21100],[4.55,15000],[4.64,8200],[4.73,3000],[4.82,600],[4.95,0]];
const p8_rosy=[[-4.5,30000],[-4.42,32000],[-4.33,36000],[-4.25,37000],[-4.18,32000],[-4.1,24000],[-4.03,22000],[-3.95,29000],[-3.85,37000],[-3.75,41000],[-3.68,42000],[-3.62,40000],[-3.57,52000],[-3.53,75700],[-3.48,68000],[-3.42,58000],[-3.35,56000],[-3.27,62000],[-3.2,72000],[-3.12,85000],[-3.05,98000],[-2.98,108000],[-2.92,115000],[-2.87,113000],[-2.82,105000],[-2.75,88000],[-2.68,70000],[-2.6,50000],[-2.52,35000],[-2.45,22000],[-2.38,17000],[-2.3,15000],[-2.22,16500],[-2.15,19000],[-2.08,18000],[-2.0,14000],[-1.92,8000],[-1.85,4000],[-1.75,1000],[-1.65,0],[1.05,0],[1.15,2500],[1.25,8000],[1.33,15000],[1.42,22000],[1.5,25000],[1.58,24500],[1.67,23000],[1.76,21500],[1.86,16000],[1.96,10000],[2.06,6000],[2.16,5000],[2.26,8000],[2.36,7500],[2.46,8500],[2.56,14000],[2.65,18000],[2.72,20500],[2.8,17000],[2.9,13000],[3.0,11000],[3.1,11000],[3.2,12500],[3.3,10000],[3.4,6000],[3.52,4500],[3.65,4000],[3.78,6000],[3.9,12000],[4.02,20000],[4.12,25000],[4.22,28500],[4.3,30000],[4.4,25000],[4.5,19000],[4.6,11000],[4.7,5000],[4.8,1500],[4.95,0]];
const p8_red=[[-4.5,5300],[-4.4,6500],[-4.3,8800],[-4.22,7000],[-4.12,5000],[-4.05,4000],[-3.95,5000],[-3.85,6000],[-3.75,7500],[-3.65,9000],[-3.58,8500],[-3.54,11000],[-3.5,14700],[-3.45,12000],[-3.4,10000],[-3.3,9500],[-3.2,9000],[-3.1,9500],[-3.0,10000],[-2.9,9000],[-2.8,6000],[-2.7,4000],[-2.6,2500],[-2.5,1500],[-2.4,1000],[-2.3,1000],[-2.2,1300],[-2.1,1500],[-2.0,1000],[-1.9,500],[-1.7,0],[1.2,0],[1.28,2000],[1.35,4500],[1.45,4000],[1.6,3000],[1.75,2500],[1.9,2000],[2.05,1200],[2.2,500],[2.35,600],[2.5,1000],[2.6,2000],[2.7,3500],[2.8,3000],[2.9,2500],[3.0,2500],[3.1,2200],[3.2,2000],[3.3,1500],[3.4,800],[3.5,500],[3.65,800],[3.8,1200],[3.9,1500],[4.05,2500],[4.15,3000],[4.25,4500],[4.35,3500],[4.45,1500],[4.55,800],[4.7,0]];
const p8_black=[[-4.5,1500],[-4.35,1200],[-4.2,800],[-4.0,500],[-3.8,1000],[-3.6,2500],[-3.45,3500],[-3.3,5000],[-3.2,6500],[-3.1,8000],[-3.0,11000],[-2.95,12500],[-2.9,11000],[-2.8,8000],[-2.7,5000],[-2.6,3000],[-2.5,2000],[-2.4,1000],[-2.2,500],[-2.0,300],[-1.8,0],[1.1,0],[1.5,500],[2.5,500],[3.5,400],[4.5,500],[5,0]];

// ===== STYLE / LAYOUT =====
const SERIF="'Liberation Serif','Times New Roman',serif";
const SANS="'Open Sans','Noto Sans',sans-serif";
const C={green:'#1ee01e',blue:'#1a1aff',red:'#ff1a1a',black:'#111',rosy:'#bc8f8f',cyan:'#2ee8f5',purple:'#9a1ee0',orange:'#ffa000'};

const panels=[
 {g:[130,57,355,347],ymax:140000,maj:20000,mn:10000,yfs:16,xfs:17,xm:12,ym:4,
  lines:[[p1_green,C.green],[p1_blue,C.blue],[p1_black,C.black],[p1_orange,C.orange],[p1_total,'dash']],
  inset:{g:[326,68,154,115],xmax:5,ymax:3000,maj:500,mn:250,data:cv_inset_cyan,color:C.cyan,top:false}},
 {g:[552,57,370,347],ymax:140000,maj:20000,mn:10000,yfs:16,xfs:17,xm:12,ym:4,
  lines:[[p2_rosy,C.rosy],[p2_blue,C.blue],[p2_black,C.black],[p2_total,'dash']],
  inset:{g:[758,66,154,125],xmax:6,ymax:2000,maj:500,mn:250,data:cv_inset_purple,color:C.purple,top:false}},
 {g:[139,441,347,370],ymax:180000,maj:50000,mn:25000,yfs:18,xfs:18,xm:15,ym:4,
  lines:[[p3_green,C.green],[p3_red,C.red],[p3_black,C.black],[p3_cyan,C.cyan],[p3_total,'dash']],
  inset:{g:[333,454,145,108],xmax:5,ymax:3000,maj:500,mn:250,data:cv_inset_cyan,color:C.cyan,top:false}},
 {g:[549,441,365,370],ymax:180000,maj:50000,mn:25000,yfs:18,xfs:18,xm:14,ym:4,special:{150000:'.5e+05'},
  lines:[[p4_rosy,C.rosy],[p4_red,C.red],[p4_black,C.black],[p4_purple,C.purple],[p4_total,'dash']],
  inset:{g:[753,455,155,127],xmax:6,ymax:2000,maj:500,mn:250,data:cv_inset_purple,color:C.purple,top:false}},
 {g:[124,925,350,360],ymax:130000,maj:20000,mn:10000,yfs:17,xfs:18,xm:15,ym:5,
  lines:[[p5_green,C.green],[p5_red,C.red],[p5_black,C.black],[p5_orange,C.orange],[p5_total,'dash']],
  inset:{g:[313,938,156,112],xmax:5,ymax:600,maj:200,mn:100,data:nv_inset_cyan,color:C.cyan,top:false}},
 {g:[537,928,351,355],ymax:120000,maj:20000,mn:10000,yfs:15,xfs:18,xm:15,ym:5,
  lines:[[p6_rosy,C.rosy],[p6_red,C.red],[p6_black,C.black],[p6_total,'dash']],
  inset:{g:[727,937,155,116],xmax:5,ymax:800,maj:200,mn:100,data:nv_inset_purple,color:C.purple,top:true}},
 {g:[121,1350,352,341],ymax:140000,maj:20000,mn:10000,yfs:17,xfs:18,xm:16,ym:3,
  lines:[[p7_green,C.green],[p7_red,C.red],[p7_black,C.black],[p7_orange,C.orange],[p7_total,'dash']],
  inset:{g:[313,1361,155,112],xmax:5,ymax:600,maj:200,mn:100,data:nv_inset_cyan,color:C.cyan,top:false}},
 {g:[547,1348,350,342],ymax:120000,maj:20000,mn:10000,yfs:17,xfs:18,xm:15,ym:5,
  lines:[[p8_rosy,C.rosy],[p8_red,C.red],[p8_black,C.black],[p8_total,'dash']],
  inset:{g:[737,1357,155,116],xmax:5,ymax:800,maj:200,mn:100,data:nv_inset_purple,color:C.purple,top:true}}
];

const grids=[],xAxes=[],yAxes=[],series=[];
const intFmt=v=>(Math.abs(v-Math.round(v))<1e-6)?String(Math.round(v)):'';
function yFmt(maj,special){return v=>{const r=v/maj;if(Math.abs(r-Math.round(r))>1e-6)return '';
  if(special&&special[v])return special[v];
  if(v>=100000){return (Math.round(v/10000)/10)+'e+05';}return String(v);};}
const TK='#1a1a1a';
const NOLINE={show:false,onZero:false};

function addY(gi,p,opt){
  yAxes.push(Object.assign({gridIndex:gi,type:'value',min:0,max:p.ymax,splitLine:{show:false},
    axisLine:NOLINE,axisLabel:{show:false}},opt));
  return yAxes.length-1;
}

panels.forEach(p=>{
  const gi=grids.length;
  grids.push({left:p.g[0],top:p.g[1],width:p.g[2],height:p.g[3],show:true,borderColor:'#1a1a1a',borderWidth:1.8,backgroundColor:'transparent'});
  const xi=xAxes.length;
  xAxes.push({gridIndex:gi,type:'value',min:-4.5,max:5,interval:0.5,position:'bottom',splitLine:{show:false},
    axisLine:NOLINE,axisTick:{show:true,inside:false,length:8,lineStyle:{color:TK,width:1.5}},
    axisLabel:{formatter:intFmt,fontFamily:SERIF,fontSize:p.xfs,color:'#111',margin:p.xm}});
  const yi=addY(gi,p,{position:'left',interval:p.maj,axisTick:{show:true,inside:true,length:11,lineStyle:{color:TK,width:1.5}},
    axisLabel:{show:true,formatter:yFmt(p.maj,p.special),fontFamily:SERIF,fontSize:p.yfs,color:'#111',margin:p.ym}});
  addY(gi,p,{position:'left',interval:p.mn,axisTick:{show:true,inside:true,length:6,lineStyle:{color:TK,width:1.3}}});
  addY(gi,p,{position:'right',interval:p.maj,axisTick:{show:true,inside:true,length:11,lineStyle:{color:TK,width:1.5}}});
  addY(gi,p,{position:'right',interval:p.mn,axisTick:{show:true,inside:true,length:6,lineStyle:{color:TK,width:1.3}}});
  p.lines.forEach((l,k)=>{
    const dashed=l[1]==='dash';
    const s={type:'line',xAxisIndex:xi,yAxisIndex:yi,data:l[0],showSymbol:false,symbol:'none',silent:true,animation:false,
      lineStyle:{color:dashed?'#000':l[1],width:dashed?2:1.5,type:dashed?[7,4]:'solid'},z:dashed?4:3};
    if(k===0){s.markLine={silent:true,symbol:['none','none'],animation:false,label:{show:false},
      lineStyle:{color:'#000',type:[9,5],width:2},data:[{xAxis:0}]};}
    series.push(s);
  });
  // inset
  const q=p.inset;
  const ig=grids.length;
  grids.push({left:q.g[0],top:q.g[1],width:q.g[2],height:q.g[3],show:true,borderColor:'#555',borderWidth:1.2,backgroundColor:'#fff',z:5});
  const ixi=xAxes.length;
  xAxes.push({gridIndex:ig,type:'value',min:-4.5,max:q.xmax,interval:0.5,position:'bottom',splitLine:{show:false},z:6,
    axisLine:NOLINE,axisTick:{show:true,inside:true,length:4,lineStyle:{color:'#333',width:1}},
    axisLabel:{formatter:intFmt,fontFamily:SERIF,fontSize:10,color:'#222',margin:6}});
  if(q.top){xAxes.push({gridIndex:ig,type:'value',min:-4.5,max:q.xmax,interval:0.5,position:'top',splitLine:{show:false},z:6,
    axisLine:NOLINE,axisTick:{show:true,inside:true,length:5,lineStyle:{color:'#333',width:1}},axisLabel:{show:false}});}
  const iy=yAxes.length;
  yAxes.push({gridIndex:ig,type:'value',min:0,max:q.ymax,interval:q.mn,position:'left',splitLine:{show:false},z:6,
    axisLine:NOLINE,axisTick:{show:true,inside:true,length:5,lineStyle:{color:'#333',width:1}},
    axisLabel:{formatter:yFmt(q.maj),fontFamily:SERIF,fontSize:10,color:'#222',margin:3}});
  yAxes.push({gridIndex:ig,type:'value',min:0,max:q.ymax,interval:q.mn,position:'right',splitLine:{show:false},z:6,
    axisLine:NOLINE,axisTick:{show:true,inside:true,length:5,lineStyle:{color:'#333',width:1}},axisLabel:{show:false}});
  series.push({type:'line',xAxisIndex:ixi,yAxisIndex:iy,data:q.data,showSymbol:false,symbol:'none',silent:true,animation:false,z:7,
    lineStyle:{color:q.color,width:1.6},
    markLine:{silent:true,symbol:['none','none'],animation:false,label:{show:false},z:7,
      lineStyle:{color:'#444',type:[4,3],width:1.2},data:[{xAxis:0}]}});
});

// ===== TEXT =====
function txt(x,y,text,size,family,rot){return {type:'text',x:x,y:y,rotation:rot||0,silent:true,z:20,
  style:{text:text,fontSize:size,fontFamily:family,fill:'#000',align:'center',verticalAlign:'middle'}};}
function eLabel(x,y){return {type:'text',x:x,y:y,silent:true,z:20,style:{text:'{a|E-E}{b|Fermi}{a| (eV)}',align:'center',verticalAlign:'middle',fill:'#000',
  rich:{a:{fontSize:18,fontFamily:SERIF,fill:'#000',lineHeight:20,verticalAlign:'top'},
        b:{fontSize:12,fontFamily:SERIF,fill:'#000',lineHeight:12,padding:[14,0,0,0]}}}};}
const graphics=[
  txt(503,27,'Charged vacancy',33,SERIF),
  txt(504,898,'Neutral Vacancy',33,SERIF),
  txt(63,230,'DENSITY OF STATES',16,SERIF,Math.PI/2),
  txt(65,626,'DENSITY OF STATES',18,SERIF,Math.PI/2),
  txt(53,1105,'DENSITY OF STATES',16,SERIF,Math.PI/2),
  txt(53,1520,'DENSITY OF STATES',17,SERIF,Math.PI/2),
  txt(24,1106,'CsI termination',21,SANS,Math.PI/2),
  {type:'text',x:23,y:1512,rotation:Math.PI/2,silent:true,z:20,style:{text:'{a|PbI}{b|2}{a| termination}',align:'center',verticalAlign:'middle',fill:'#000',
    rich:{a:{fontSize:21,fontFamily:SANS,fill:'#000',lineHeight:24,verticalAlign:'top'},b:{fontSize:14,fontFamily:SANS,fill:'#000',lineHeight:14,padding:[13,0,0,0]}}}},
  eLabel(314,857),eLabel(733,855),eLabel(300,1333),eLabel(713,1331),eLabel(298,1736),eLabel(722,1735)
];

const chart=echarts.init(document.getElementById('c'),null,{renderer:'canvas',width:925,height:1744});
chart.setOption({backgroundColor:'#fff',animation:false,grid:grids,xAxis:xAxes,yAxis:yAxes,series:series,graphic:graphics});
</script></body></html>
